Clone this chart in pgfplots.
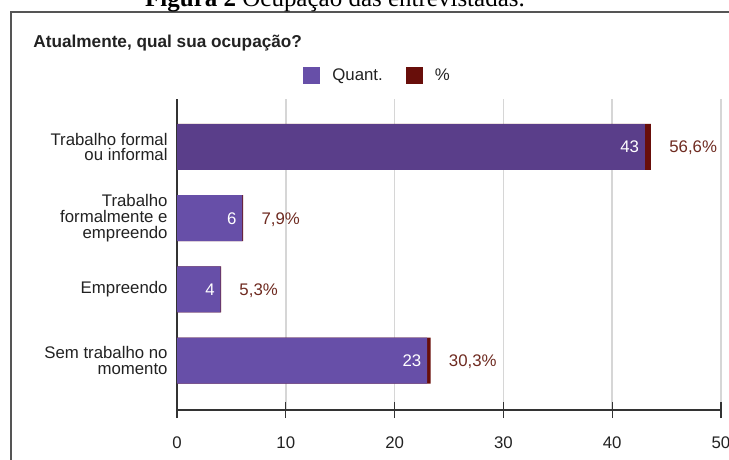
\documentclass[border=0pt]{standalone}
\usepackage{pgfplots}
\pgfplotsset{compat=1.18}
\usepackage{fontspec}
\setmainfont{Liberation Sans}
\newfontfamily\serifcap{Liberation Serif}
\definecolor{qpurple}{RGB}{103,79,168}
\definecolor{qpurpledark}{RGB}{90,62,138}
\definecolor{qred}{RGB}{104,14,10}
\definecolor{pctcol}{RGB}{110,42,32}
\definecolor{txt}{RGB}{34,34,34}
\definecolor{gridc}{RGB}{214,214,214}
\definecolor{axisc}{RGB}{51,51,51}
\definecolor{framec}{RGB}{85,85,85}
\newcommand{\lab}{\fontsize{8.4}{7.9}\selectfont}
\begin{document}
\begin{tikzpicture}
\path[use as bounding box] (0pt,0pt) rectangle (364.5pt,-230pt);
\draw[framec, line width=0.7pt] (5.5pt,-6pt) rectangle (372pt,-240pt);
\node[anchor=base, inner sep=0pt, font=\serifcap\fontsize{12.5}{14}\selectfont, text=black] at (167.5pt,-3.5pt) {\textbf{Figura 2} Ocupação das entrevistadas.};
\node[anchor=base west, inner sep=0pt, font=\fontsize{8.6}{10}\selectfont\bfseries, text=txt] at (16.5pt,-24pt) {Atualmente, qual sua ocupação?};
\begin{axis}[
  at={(88.5pt,-205pt)}, anchor=south west,
  scale only axis, width=272pt, height=155.5pt,
  xbar, bar width=23pt, bar shift=0pt,
  xmin=0, xmax=50, ymin=-0.695, ymax=3.674,
  xtick={0,10,20,30,40,50},
  ytick={0,1,2,3},
  yticklabels={{Sem trabalho no\\momento},{Empreendo},{Trabalho\\formalmente e\\empreendo},{Trabalho formal\\ou informal}},
  yticklabel style={align=right, inner sep=0pt, xshift=-0.5pt, font=\lab, text=txt},
  xticklabel style={inner sep=0pt, yshift=-9pt, font=\lab, text=txt},
  axis x line=bottom, axis y line=left,
  axis line style={axisc, line width=0.7pt, -},
  tick align=center, major tick length=8pt,
  x tick style={axisc, line width=0.6pt},
  y tick style={draw=none},
  xmajorgrids, grid style={gridc, line width=0.8pt},
  /pgf/number format/assume math mode=true,
  legend columns=2,
  legend style={at={(0.2316,1.077)}, anchor=west, draw=none, fill=none, inner sep=0pt,
    font=\lab, text=txt,
    /tikz/every even column/.append style={column sep=11.5pt},
    nodes={inner sep=0pt, text depth=0pt}},
  legend image code/.code={\fill[#1, draw=none] (0pt,-4.25pt) rectangle (8.5pt,4.25pt); \path (14.5pt,0pt);},
]
\addlegendimage{fill=qpurple, draw=none}
\addlegendentry{Quant.}
\addlegendimage{fill=qred, draw=none}
\addlegendentry{\%}
% % series (stacked after Quant.; drawn full length underneath)
\addplot[forget plot, fill=qred, draw=none, nodes near coords, point meta=explicit symbolic,
  every node near coord/.append style={anchor=west, inner sep=0pt, xshift=9pt, text=pctcol, font=\lab, text depth=0pt}]
  coordinates {(43.566,3) [{56,6\%}] (6.079,2) [{7,9\%}] (4.053,1) [{5,3\%}] (23.303,0) [{30,3\%}]};
% Quant. series
\addplot[forget plot, fill=qpurple, draw=none, nodes near coords,
  every node near coord/.append style={anchor=east, inner sep=0pt, xshift=-2.75pt, text=white, font=\lab, text depth=0pt}]
  coordinates {(6,2) (4,1) (23,0)};
\addplot[forget plot, fill=qpurpledark, draw=none, nodes near coords,
  every node near coord/.append style={anchor=east, inner sep=0pt, xshift=-2.75pt, text=white, font=\lab, text depth=0pt}]
  coordinates {(43,3)};
\end{axis}
\end{tikzpicture}
\end{document}
